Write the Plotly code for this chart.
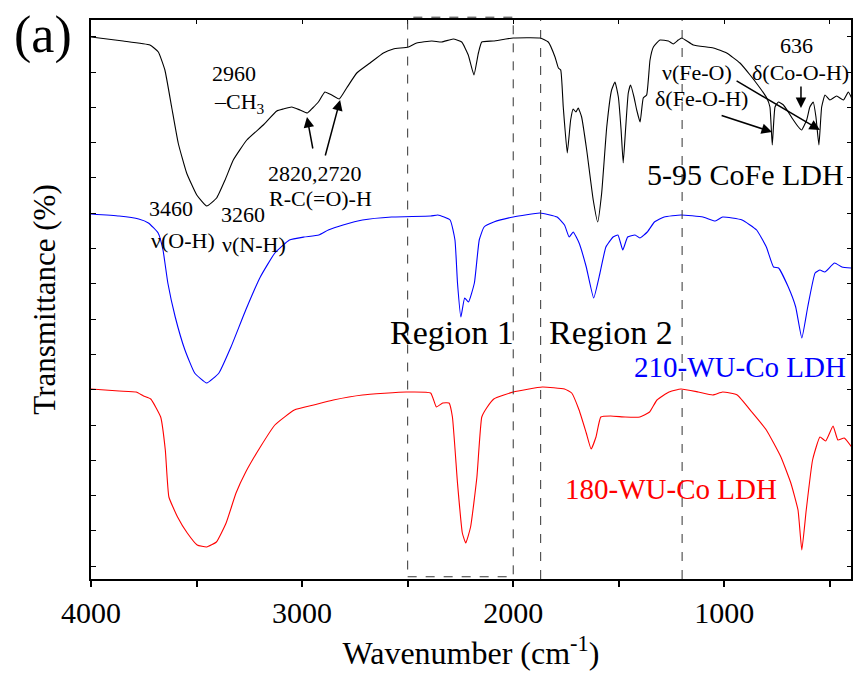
import plotly.graph_objects as go

# ---------------- data (wavenumber in cm^-1, transmittance in arbitrary offset units) -------------
wn_cofe = [4000, 3848, 3721, 3681, 3650, 3618, 3587, 3547, 3499, 3452, 3405, 3365, 3326, 3262, 3184,
           3120, 3089, 3049, 3010, 2975, 2950, 2923, 2892, 2860, 2824, 2789, 2741, 2678, 2615, 2568,
           2497, 2457, 2386, 2339, 2284, 2244, 2213, 2186, 2165, 2149, 2094, 2000, 1873, 1834, 1802,
           1786, 1775, 1763, 1744, 1728, 1716, 1703, 1692, 1676, 1652, 1621, 1600, 1581, 1557, 1534,
           1518, 1502, 1489, 1479, 1468, 1455, 1444, 1428, 1415, 1399, 1384, 1368, 1352, 1336, 1305,
           1265, 1242, 1218, 1202, 1147, 1052, 989, 926, 878, 831, 799, 784, 773, 760, 744,
           720, 697, 673, 649, 634, 610, 595, 579, 566, 552, 539, 523, 500, 468, 436,
           413, 397]
t_cofe = [541, 537, 533, 526, 508, 471, 435, 405, 383, 372, 380, 398, 418, 438, 453,
          467, 469, 471, 468, 465, 470, 476, 486, 483, 479, 490, 505, 515, 525, 529,
          531, 535, 537, 536, 539, 536, 523, 503, 525, 536, 537, 540, 540, 536, 521,
          510, 508, 471, 425, 458, 469, 466, 470, 461, 428, 378, 356, 385, 451, 488,
          496, 481, 448, 415, 448, 485, 493, 481, 468, 456, 480, 483, 518, 531, 538,
          537, 534, 538, 540, 533, 530, 525, 515, 503, 490, 480, 471, 433, 471, 476,
          473, 466, 458, 451, 448, 458, 471, 476, 461, 433, 471, 483, 478, 482, 478,
          486, 480]

wn_210 = [4000, 3867, 3774, 3728, 3682, 3659, 3636, 3601, 3555, 3509, 3452, 3394, 3337, 3267, 3198,
          3129, 3060, 2991, 2921, 2876, 2806, 2714, 2576, 2391, 2357, 2299, 2276, 2264, 2248, 2230,
          2212, 2184, 2161, 2138, 2092, 2000, 1873, 1792, 1757, 1735, 1716, 1688, 1654, 1619, 1589,
          1561, 1527, 1504, 1481, 1458, 1423, 1400, 1365, 1331, 1285, 1205, 1101, 1043, 1008, 916,
          847, 801, 767, 743, 697, 662, 633, 605, 570, 547, 524, 478, 443, 397]
t_210 = [364, 362, 359, 355, 345, 328, 295, 261, 228, 205, 195, 205, 231, 268, 301,
         325, 338, 341, 343, 348, 353, 358, 361, 362, 363, 358, 338, 295, 261, 280,
         276, 295, 338, 351, 356, 361, 365, 361, 353, 341, 346, 335, 311, 280, 305,
         331, 341, 343, 328, 341, 343, 340, 346, 356, 361, 363, 361, 357, 361, 358,
         348, 331, 311, 310, 291, 271, 240, 271, 305, 308, 306, 315, 311, 310]

wn_180 = [4000, 3867, 3786, 3751, 3717, 3670, 3648, 3631, 3590, 3544, 3497, 3452, 3406, 3360, 3313,
          3267, 3198, 3129, 3037, 2945, 2852, 2714, 2507, 2391, 2364, 2334, 2304, 2288, 2264, 2241,
          2225, 2202, 2172, 2149, 2126, 2092, 2000, 1862, 1757, 1723, 1688, 1654, 1631, 1608, 1585,
          1539, 1470, 1400, 1354, 1319, 1262, 1205, 1124, 1055, 1008, 939, 870, 801, 732, 685,
          651, 633, 612, 582, 547, 520, 485, 462, 432, 397]
t_180 = [189, 187, 186, 182, 179, 161, 128, 81, 61, 45, 33, 31, 36, 55, 85,
         106, 131, 153, 168, 173, 178, 183, 186, 185, 171, 175, 175, 161, 95, 45,
         35, 51, 101, 161, 170, 179, 186, 191, 189, 185, 168, 145, 129, 141, 161,
         162, 161, 161, 166, 178, 186, 189, 186, 183, 186, 183, 166, 148, 121, 95,
         68, 28, 68, 118, 141, 137, 152, 138, 140, 131]

series_names = ["5-95 CoFe LDH", "210-WU-Co LDH", "180-WU-Co LDH"]
series_colors = ["#000000", "#0000ff", "#ff0000"]
region_edges = [2500, 2000]
marker_lines = [1870, 1200]

FONT = "Liberation Serif"

fig = go.Figure()
for wn, t, name, col in zip([wn_cofe, wn_210, wn_180], [t_cofe, t_210, t_180], series_names, series_colors):
    fig.add_trace(go.Scatter(x=wn, y=t, mode="lines", name=name,
                             line=dict(color=col, width=1.1, shape="spline", smoothing=0.4),
                             showlegend=False, hoverinfo="skip"))

# invisible trace for mirrored axes
fig.add_trace(go.Scatter(x=[4000], y=[0], mode="markers", marker=dict(opacity=0),
                         xaxis="x2", yaxis="y2", showlegend=False, hoverinfo="skip"))

XR = [4000, 400]
YR = [-1, 558]

# dashed region box and lines
fig.add_shape(type="rect", xref="x", yref="paper", x0=region_edges[0], x1=region_edges[1],
              y0=0.004, y1=1.005, line=dict(color="#333333", width=1, dash="dash"))
for xv in marker_lines:
    fig.add_shape(type="line", xref="x", yref="paper", x0=xv, x1=xv, y0=0, y1=1,
                  line=dict(color="#333333", width=1, dash="dash"))

def txt(x, y, s, size=22, color="black", xanchor="center", xref="x", yref="y"):
    fig.add_annotation(x=x, y=y, text=s, showarrow=False, xref=xref, yref=yref,
                       xanchor=xanchor, yanchor="middle",
                       font=dict(family=FONT, size=size, color=color))

def arrow(x_tail, y_tail, x_tip, y_tip):
    fig.add_annotation(x=x_tip, y=y_tip, ax=x_tail, ay=y_tail, xref="x", yref="y",
                       axref="x", ayref="y", text="", showarrow=True,
                       arrowhead=2, arrowsize=1.4, arrowwidth=1.5, arrowcolor="black")

txt(3323, 505, "2960")
txt(3427, 475, "–CH<sub>3</sub>", xanchor="left")
txt(2939, 405, "2820,2720")
txt(2915, 380, "R-C(=O)-H")
txt(3621, 370, "3460")
txt(3280, 364, "3260")
txt(3564, 338, "ν(O-H)")
txt(3228, 334, "ν(N-H)")
txt(2290, 246, "Region 1", size=34)
txt(1537, 246, "Region 2", size=34)
txt(902, 404, "5-95 CoFe LDH", size=30)
txt(926, 211, "210-WU-Co LDH", size=29, color="#0000ff")
txt(1253, 89, "180-WU-Co LDH", size=29, color="#ff0000")
txt(660, 533, "636")
txt(637, 506, "δ(Co-O-H)")
txt(1129, 506, "ν(Fe-O)")
txt(1106, 480, "δ(Fe-O-H)")
txt(-0.063, 0.973, "(a)", size=52, xref="paper", yref="paper")

arrow(1020, 463, 774, 446)
arrow(949, 498, 547, 448)
arrow(637, 493, 637, 470)
arrow(2948, 428, 2977, 461)
arrow(2892, 421, 2820, 478)

fig.update_layout(
    width=853, height=691,
    margin=dict(l=91, r=2, t=20, b=112),
    plot_bgcolor="white", paper_bgcolor="white",
    font=dict(family=FONT, color="black"),
    xaxis=dict(range=XR, tick0=0, dtick=1000, ticks="outside", ticklen=6, tickwidth=1.5,
               tickcolor="black", showgrid=False, zeroline=False,
               showline=True, linecolor="black", linewidth=2,
               tickfont=dict(family=FONT, size=30),
               minor=dict(dtick=500, ticks="outside", ticklen=6, tickwidth=1.5, tickcolor="black"),
               title=dict(text="Wavenumber (cm<sup>-1</sup>)", font=dict(family=FONT, size=32),
                          standoff=14)),
    yaxis=dict(range=YR, tick0=11.8, dtick=35.3, ticks="inside", ticklen=5, tickwidth=1.2,
               tickcolor="black", showticklabels=False, showgrid=False, zeroline=False,
               showline=True, linecolor="black", linewidth=2,
               title=dict(text="Transmittance (%)", font=dict(family=FONT, size=31), standoff=24)),
    xaxis2=dict(range=XR, overlaying="x", side="top", anchor="y2", tick0=0, dtick=500,
                ticks="inside", ticklen=4, tickwidth=1.2, tickcolor="black",
                showticklabels=False, showgrid=False, zeroline=False,
                showline=True, linecolor="black", linewidth=2),
    yaxis2=dict(range=YR, overlaying="y", side="right", anchor="x2", tick0=11.8, dtick=35.3,
                ticks="inside", ticklen=4, tickwidth=1.2, tickcolor="black",
                showticklabels=False, showgrid=False, zeroline=False,
                showline=True, linecolor="black", linewidth=2),
)

fig.write_html("out.html")
